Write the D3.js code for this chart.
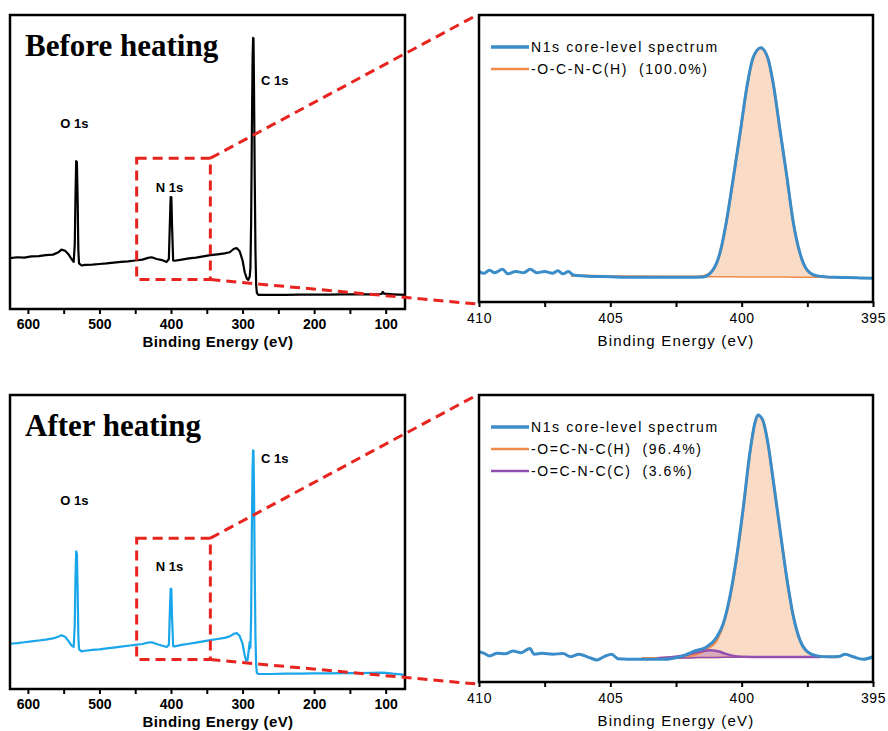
<!DOCTYPE html>
<html>
<head>
<meta charset="utf-8">
<script src="https://cdn.jsdelivr.net/npm/d3@7"></script>
<style>
  body { margin: 0; background: #fff; }
  svg { display: block; }
</style>
</head>
<body>
<div id="chart"></div>
<script>
// Survey spectra: [binding energy eV, intensity a.u.]
const surveyBefore = [
  [625,17.3],[615,17.6],[605,17.5],[595,17.9],[585,18.0],[575,18.3],[565,18.5],[558,19.2],[553,20.2],[548,19.8],
  [543,18.5],[539,17.0],[536,16.0],[534.5,22],[533.5,38],[532.5,50.3],[531.5,50],[530.5,38],[529.5,20],[528.5,15.5],
  [525,14.8],[520,15.0],[510,15.1],[500,15.3],[490,15.5],[480,15.8],[470,16.0],[460,16.2],[450,16.5],[440,16.8],
  [432,17.4],[427,17.6],[420,17.0],[412,16.6],[406,16.0],[403,17],[401.5,30],[400.5,38.1],[399.5,38],[398.5,28],
  [397,16.5],[395,16.4],[385,16.8],[375,17.2],[365,17.5],[355,17.9],[345,18.3],[335,18.6],[325,18.9],[318,19.3],
  [312,20.5],[308,20.7],[304,19.6],[300,16.5],[297,12.5],[294,10.3],[292,9.9],[290,11],[289,14],[288,30],
  [287,60],[286,85],[285.3,92.2],[284.7,92],[284,75],[283,45],[282,20],[281,8],[280,5.5],[278,4.8],
  [260,4.8],[240,4.8],[220,4.9],[200,4.9],[180,4.9],[160,5.0],[140,5.0],[120,5.0],[106,5.1],[104,5.8],
  [102,5.2],[90,5.0],[73,4.8]
];
const surveyAfter = [
  [625,15.4],[615,15.6],[605,15.9],[595,16.2],[585,16.5],[575,16.8],[565,17.2],[558,17.8],[553,18.3],[548,17.8],
  [543,16.2],[539,14.8],[536,14.3],[534.5,22],[533.5,38],[532.5,46.8],[531.5,46],[530.5,34],[529.5,18],[528.5,13.5],
  [525,12.8],[520,13.0],[510,13.3],[500,13.5],[490,13.8],[480,14.1],[470,14.4],[460,14.7],[450,15.0],[440,15.3],
  [432,15.8],[427,15.9],[420,15.3],[412,14.7],[406,14.3],[403,15],[401.5,27],[400.5,34.1],[399.5,34],[398.5,24],
  [397,14.6],[395,14.5],[385,15.0],[375,15.4],[365,15.8],[355,16.2],[345,16.6],[335,17.0],[325,17.4],[318,17.9],
  [312,18.8],[308,19.0],[304,18.0],[300,15.4],[297,11.5],[295,9.6],[293,9.8],[291,14],[290,16],[289,14],
  [288,25],[287,55],[286,75],[285.3,81.2],[284.7,81],[284,68],[283,40],[282,18],[281,8],[280,5.5],
  [278,5.1],[260,5.1],[240,5.2],[220,5.2],[200,5.3],[180,5.3],[160,5.4],[140,5.4],[120,5.5],[105,5.6],
  [100,5.5],[90,5.2],[73,4.8]
];

// Peak labels: [text, energy, intensity]
const peakLabelsBefore = [["O 1s",535,61.6],["N 1s",402,39.8],["C 1s",255,76.2]];
const peakLabelsAfter = [["O 1s",535,62.5],["N 1s",402,40.3],["C 1s",255,76.8]];

// N1s envelopes: [energy, intensity]
const n1sBefore = [
  [410,10.6],[409.8,10.0],[409.6,11.1],[409.4,10.2],[409.1,11.4],[408.9,9.8],[408.6,10.6],[408.3,10.2],[408.05,11.4],
  [407.8,10.2],[407.5,10.6],[407.2,10.0],[407.0,10.9],[406.8,9.8],[406.6,10.6],[406.4,9.4],[406.0,9.1],[405,8.8],
  [404,8.6],[403,8.6],[402,8.6],[401.47,8.7],[401.1,11.1],[400.83,17.0],[400.57,28.6],[400.33,42.5],[400.06,58.8],
  [399.8,75.0],[399.57,85.0],[399.27,88.6],[399.0,84.9],[398.8,76.2],[398.54,59.9],[398.28,43.7],[398.05,28.6],
  [397.78,17.0],[397.5,11.1],[397.12,9.1],[396.5,8.6],[396,8.5],[395.5,8.4],[395,8.3]
];
// component: [energy, top, base]
const compBeforeH = [
  [406.5,9.2,9.2],[405,8.9,8.9],[403,8.8,8.8],[402,8.8,8.8],[401.47,9.0,8.8],[401.1,11.0,8.8],[400.83,16.9,8.8],
  [400.57,28.5,8.8],[400.33,42.4,8.8],[400.06,58.7,8.7],[399.8,74.9,8.7],[399.57,84.9,8.7],[399.27,88.5,8.7],
  [399.0,84.8,8.7],[398.8,76.1,8.7],[398.54,59.8,8.7],[398.28,43.6,8.7],[398.05,28.5,8.6],[397.78,16.9,8.6],
  [397.5,11.0,8.6],[397.12,9.0,8.6],[396.5,8.6,8.6]
];

const n1sAfter = [
  [410,10.6],[409.8,10.0],[409.6,9.1],[409.3,10.0],[409.0,9.8],[408.7,10.8],[408.4,10.2],[408.06,11.7],[407.9,9.7],
  [407.6,10.0],[407.2,9.7],[406.8,9.9],[406.5,8.8],[406.2,9.7],[405.8,8.5],[405.5,7.7],[405.2,9.0],[404.95,9.7],
  [404.7,8.1],[404,7.9],[403,7.9],[402.6,8.3],[402.2,9.2],[401.85,10.6],[401.32,12.3],[400.94,15.8],[400.7,20.4],
  [400.45,29.7],[400.19,43.7],[399.95,59.9],[399.69,79.7],[399.5,90.1],[399.38,93.0],[399.2,91.3],[399.0,83.2],
  [398.8,70.4],[398.54,53.0],[398.29,36.7],[398.03,22.8],[397.78,14.6],[397.5,10.6],[397.12,9.1],[396.74,8.8],
  [396.3,8.9],[396.06,9.7],[395.76,8.8],[395.38,7.9],[395,8.8]
];
const compAfterH = [
  [403.8,8.3,8.3],[403,8.4,8.3],[402.4,8.6,8.4],[401.9,9.2,8.5],[401.5,10.5,8.5],[401.2,12.3,8.5],[401.0,13.8,8.5],
  [400.8,17.5,8.6],[400.7,20.0,8.6],[400.45,29.0,8.6],[400.19,43.2,8.6],[399.95,59.6,8.6],[399.69,79.5,8.6],
  [399.5,90.0,8.6],[399.38,92.9,8.6],[399.2,91.2,8.7],[399.0,83.1,8.7],[398.8,70.3,8.7],[398.54,52.9,8.7],
  [398.29,36.6,8.7],[398.03,22.7,8.7],[397.78,14.5,8.7],[397.5,10.5,8.7],[397.12,9.0,8.7],[396.74,8.8,8.7],[396.3,8.7,8.7]
];
const compAfterC = [
  [403.2,8.3,8.3],[402.8,8.5,8.3],[402.4,9.0,8.4],[402.0,9.7,8.4],[401.6,10.5,8.5],[401.2,11.1,8.5],[400.9,10.7,8.5],
  [400.6,9.8,8.6],[400.3,9.1,8.6],[400.0,8.8,8.6],[399,8.7,8.7],[398,8.7,8.7],[397,8.7,8.7]
];

const legendBefore = [["N1s core-level spectrum","#3b8dca"],["-O-C-N-C(H)  (100.0%)","#f08a4b"]];
const legendAfter = [["N1s core-level spectrum","#3b8dca"],["-O=C-N-C(H)  (96.4%)","#f08a4b"],["-O=C-N-C(C)  (3.6%)","#8e4fb0"]];

const surveyTicks = [600,500,400,300,200,100];
const surveyMinor = [550,450,350,250,150];
const detailTicks = [410,405,400,395];
const detailMinor = [407.5,402.5,397.5];
const zoomBox = [448, 345, 10, 51.3]; // energy left, energy right, intensity low, high

const svg = d3.select("#chart").append("svg")
  .attr("width", 888).attr("height", 731)
  .style("font-family", "'Liberation Sans', Arial, sans-serif");

const red = "#e8241f";

function drawSurvey(top, title, data, color, labels) {
  const x = d3.scaleLinear().domain([625, 73]).range([10, 405]);
  const y = d3.scaleLinear().domain([0, 100]).range([top + 294, top]);
  const g = svg.append("g");

  g.append("path")
    .datum(data)
    .attr("fill", "none")
    .attr("stroke", color)
    .attr("stroke-width", 2.2)
    .attr("stroke-linejoin", "round")
    .attr("d", d3.line().x(d => x(d[0])).y(d => y(d[1])));

  // axis with major + minor ticks
  const ax = g.append("g").attr("transform", `translate(0,${top + 294})`);
  ax.call(d3.axisBottom(x).tickValues(surveyTicks).tickSize(5).tickPadding(5).tickFormat(d3.format("d")));
  ax.append("g").call(d3.axisBottom(x).tickValues(surveyMinor).tickSize(5).tickFormat(""));
  ax.selectAll(".domain").remove();
  ax.selectAll("line").attr("stroke", "#000").attr("stroke-width", 2);
  ax.selectAll("text").attr("fill", "#000").style("font-size", "14px").style("font-weight", "bold")
    .style("font-family", "'Liberation Sans', Arial, sans-serif");

  g.append("rect")
    .attr("x", 10).attr("y", top).attr("width", 395).attr("height", 294)
    .attr("fill", "none").attr("stroke", "#000").attr("stroke-width", 2.5);

  g.append("text")
    .attr("x", 218).attr("y", top + 332)
    .attr("text-anchor", "middle")
    .style("font-size", "15px").style("font-weight", "bold").style("letter-spacing", "0.4px")
    .text("Binding Energy (eV)");

  g.append("text")
    .attr("x", 25).attr("y", top + 41)
    .style("font-family", "'Liberation Serif', 'Times New Roman', serif")
    .style("font-size", "31px").style("font-weight", "bold")
    .text(title);

  g.selectAll(".peak").data(labels).join("text")
    .attr("x", d => x(d[1])).attr("y", d => y(d[2]))
    .attr("text-anchor", "middle")
    .style("font-size", "13px").style("font-weight", "bold")
    .text(d => d[0]);

  // zoom box
  g.append("rect")
    .attr("x", x(zoomBox[0])).attr("y", y(zoomBox[3]))
    .attr("width", x(zoomBox[1]) - x(zoomBox[0]))
    .attr("height", y(zoomBox[2]) - y(zoomBox[3]))
    .attr("fill", "none").attr("stroke", red).attr("stroke-width", 3)
    .attr("stroke-dasharray", "10,6");

  return {xr: x(zoomBox[1]), yt: y(zoomBox[3]), yb: y(zoomBox[2])};
}

function drawDetail(top, envelope, comps, legend, box) {
  const x = d3.scaleLinear().domain([410, 395]).range([479, 873]);
  const y = d3.scaleLinear().domain([0, 100]).range([top + 287, top]);
  const g = svg.append("g");

  // connectors from zoom box
  g.append("line").attr("x1", box.xr).attr("y1", box.yt).attr("x2", 477).attr("y2", top)
    .attr("stroke", red).attr("stroke-width", 3).attr("stroke-dasharray", "10,6");
  g.append("line").attr("x1", box.xr).attr("y1", box.yb).attr("x2", 477).attr("y2", top + 289)
    .attr("stroke", red).attr("stroke-width", 3).attr("stroke-dasharray", "10,6");

  const area = d3.area().x(d => x(d[0])).y0(d => y(d[2])).y1(d => y(d[1])).curve(d3.curveMonotoneX);
  const lineTop = d3.line().x(d => x(d[0])).y(d => y(d[1])).curve(d3.curveMonotoneX);
  const lineBase = d3.line().x(d => x(d[0])).y(d => y(d[2]));

  const fills = ["rgba(244,170,120,0.42)", "rgba(150,70,165,0.32)"];
  const strokes = ["#f08a4b", "#9550b0"];
  comps.forEach((c, i) => {
    g.append("path").datum(c).attr("fill", fills[i]).attr("d", area);
  });
  comps.forEach((c, i) => {
    g.append("path").datum(c).attr("fill", "none").attr("stroke", strokes[i]).attr("stroke-width", 1.5).attr("d", lineBase);
    g.append("path").datum(c).attr("fill", "none").attr("stroke", strokes[i]).attr("stroke-width", 2.5).attr("d", lineTop);
  });

  g.append("path").datum(envelope)
    .attr("fill", "none").attr("stroke", "#3b8dca").attr("stroke-width", 3)
    .attr("stroke-linejoin", "round")
    .attr("d", d3.line().x(d => x(d[0])).y(d => y(d[1])).curve(d3.curveMonotoneX));

  const ax = g.append("g").attr("transform", `translate(0,${top + 287})`);
  ax.call(d3.axisBottom(x).tickValues(detailTicks).tickSize(5).tickPadding(6).tickFormat(d3.format("d")));
  ax.append("g").call(d3.axisBottom(x).tickValues(detailMinor).tickSize(5).tickFormat(""));
  ax.selectAll(".domain").remove();
  ax.selectAll("line").attr("stroke", "#000").attr("stroke-width", 2);
  ax.selectAll("text").attr("fill", "#000").style("font-size", "14px").style("letter-spacing", "0.6px")
    .style("font-family", "'Liberation Sans', Arial, sans-serif");

  g.append("rect")
    .attr("x", 479).attr("y", top).attr("width", 394).attr("height", 287)
    .attr("fill", "none").attr("stroke", "#000").attr("stroke-width", 2.5);

  g.append("text")
    .attr("x", 676).attr("y", top + 331)
    .attr("text-anchor", "middle")
    .style("font-size", "15px").style("letter-spacing", "1.2px")
    .text("Binding Energy (eV)");

  const lg = g.append("g").attr("transform", `translate(491,${top + 32})`);
  legend.forEach((d, i) => {
    const row = lg.append("g").attr("transform", `translate(0,${i * 22})`);
    row.append("line").attr("x1", 0).attr("x2", 38).attr("y1", 0).attr("y2", 0)
      .attr("stroke", d[1]).attr("stroke-width", i === 0 ? 3.5 : 2.5);
    row.append("text").attr("x", 40).attr("y", 5)
      .style("font-size", "14px").style("letter-spacing", "1.6px").style("white-space", "pre")
      .text(d[0]);
  });
}

const b1 = drawSurvey(15, "Before heating", surveyBefore, "#000", peakLabelsBefore);
drawDetail(15, n1sBefore, [compBeforeH], legendBefore, b1);
const b2 = drawSurvey(395, "After heating", surveyAfter, "#1aa6ea", peakLabelsAfter);
drawDetail(395, n1sAfter, [compAfterH, compAfterC], legendAfter, b2);
</script>
</body>
</html>
